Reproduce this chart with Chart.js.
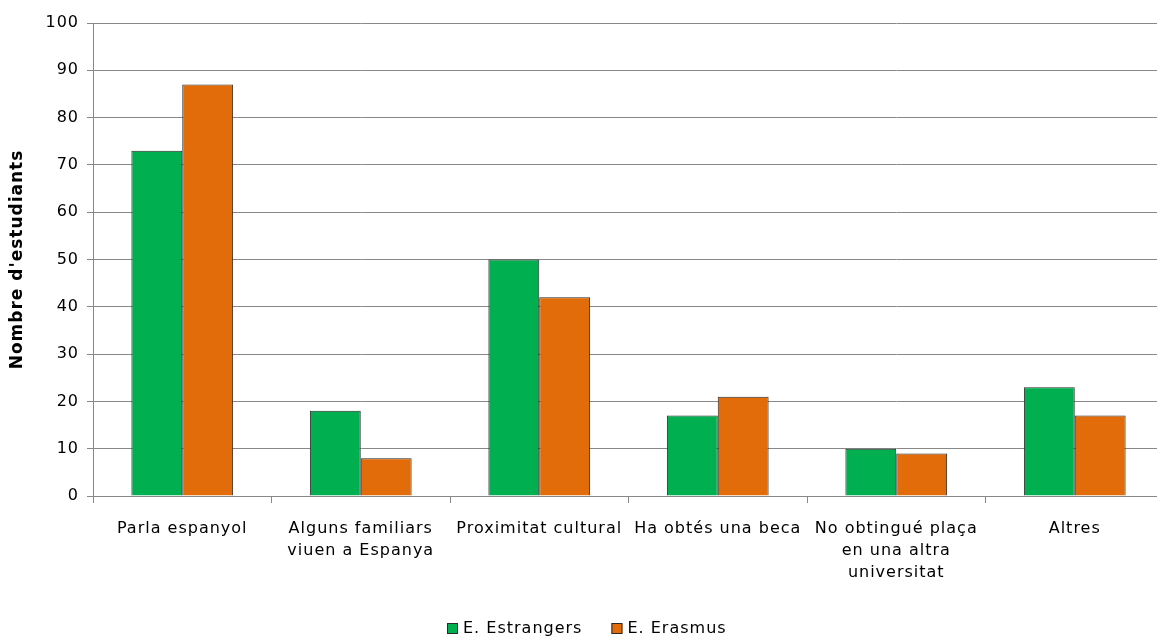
<!DOCTYPE html>
<html>
<head>
<meta charset="utf-8">
<script src="https://cdn.jsdelivr.net/npm/chart.js@4"></script>
<style>
html,body{margin:0;padding:0;background:#fff;overflow:hidden;}
#wrap{position:relative;width:1165px;height:639px;}
</style>
</head>
<body>
<div id="wrap"><canvas id="c"></canvas></div>
<script>
const categories = [
  "Parla espanyol",
  ["Alguns familiars", "viuen a Espanya"],
  "Proximitat cultural",
  "Ha obtés una beca",
  ["No obtingué plaça", "en una altra", "universitat"],
  "Altres"
];
const estrangers = [73, 18, 50, 17, 10, 23];
const erasmus = [87, 8, 42, 21, 9, 17];
const yTicks = [0, 10, 20, 30, 40, 50, 60, 70, 80, 90, 100];
const seriesNames = ["E. Estrangers", "E. Erasmus"];

const FONT = "'DejaVu Sans', Verdana, sans-serif";
const spacingPlugin = {
  id: 'spacing',
  beforeLayout(chart){ chart.ctx.letterSpacing = '1px'; },
  beforeDraw(chart){ chart.ctx.letterSpacing = '1px'; }
};

// Legend drawn at the bottom (Excel-like placement)
const bottomLegend = {
  id: 'bottomLegend',
  afterDraw(chart){
    const ctx = chart.ctx;
    ctx.save();
    ctx.letterSpacing = '1px';
    ctx.font = "16px " + FONT;
    ctx.textBaseline = 'middle';
    ctx.textAlign = 'left';
    const box = 11, gapText = 5, gapItem = 29;
    const items = chart.data.datasets.map(d => ({ label: d.label, color: d.backgroundColor, border: d.borderColor, w: ctx.measureText(d.label).width }));
    let total = 0;
    items.forEach((it, i) => { total += box + gapText + it.w + (i < items.length - 1 ? gapItem : 0); });
    const cy = 629;
    let x = Math.round(chart.width / 2 + 4 - total / 2);
    items.forEach(it => {
      ctx.fillStyle = it.color;
      ctx.fillRect(x, cy - 6, box, box);
      ctx.strokeStyle = it.border;
      ctx.lineWidth = 1;
      ctx.strokeRect(x + 0.5, cy - 5.5, box - 1, box - 1);
      ctx.fillStyle = '#000';
      ctx.fillText(it.label, x + box + gapText, cy);
      x += box + gapText + it.w + gapItem;
    });
    ctx.restore();
  }
};

new Chart(document.getElementById('c'), {
  type: 'bar',
  data: {
    labels: categories,
    datasets: [
      { label: seriesNames[0], data: estrangers, backgroundColor: '#00B050', borderColor: '#2a2a2a', borderWidth: 1 },
      { label: seriesNames[1], data: erasmus, backgroundColor: '#E36C0A', borderColor: '#2a2a2a', borderWidth: 1 }
    ]
  },
  plugins: [spacingPlugin, bottomLegend],
  options: {
    responsive: true,
    maintainAspectRatio: false,
    animation: false,
    devicePixelRatio: 1,
    layout: { padding: { top: 23, left: 0, right: 1, bottom: 0 } },
    datasets: { bar: { categoryPercentage: 0.57, barPercentage: 1.0 } },
    plugins: {
      legend: { display: false },
      tooltip: { enabled: false }
    },
    scales: {
      x: {
        grid: { display: true, drawOnChartArea: false, offset: true, color: '#888', tickLength: 7 },
        border: { color: '#888' },
        ticks: { font: { family: FONT, size: 16, lineHeight: 1.375 }, color: '#000', maxRotation: 0, autoSkip: false, padding: 15 },
        afterFit(s){ s.height = s.chart.height - 496; }
      },
      y: {
        min: 0, max: 100,
        afterBuildTicks(s){ s.ticks = yTicks.map(v => ({ value: v })); },
        grid: { color: '#888', tickLength: 6 },
        border: { color: '#888' },
        ticks: { font: { family: FONT, size: 16 }, color: '#000', padding: 8 },
        title: { display: true, text: "Nombre d'estudiants", font: { family: FONT, size: 17, weight: 'bold' }, color: '#000', padding: { top: 7, bottom: 0 } },
        afterFit(s){ s.width = 93; }
      }
    }
  }
});
</script>
</body>
</html>
